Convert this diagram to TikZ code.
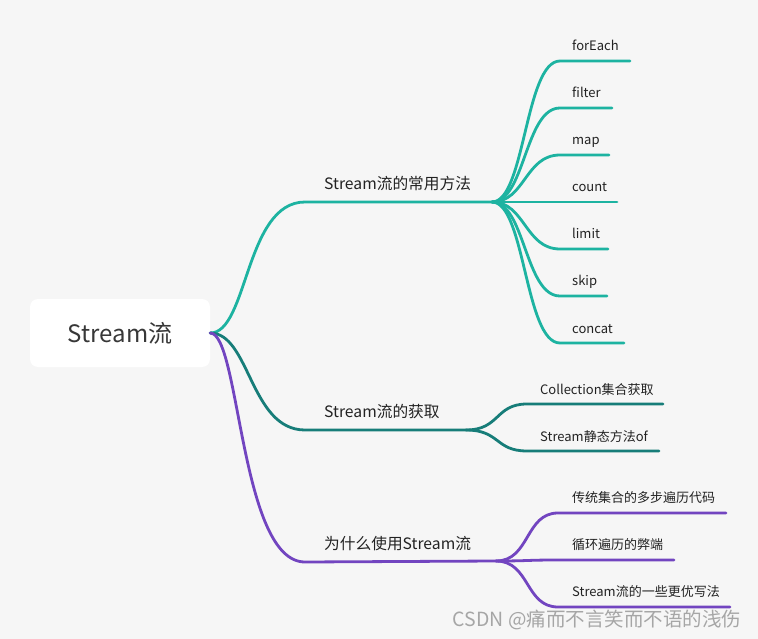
\documentclass[tikz,border=0pt]{standalone}
\usepackage{fontspec}
\setmainfont{Noto Sans CJK SC}
\definecolor{bgc}{HTML}{F6F6F6}
\definecolor{tealA}{HTML}{1DB3A1}
\definecolor{tealB}{HTML}{177D79}
\definecolor{purp}{HTML}{7245C0}
\definecolor{txt}{HTML}{222222}
\tikzset{
  rootbox/.style={fill=white,rounded corners=8pt,minimum width=180pt,minimum height=68pt,inner sep=0pt,font=\fontsize{24}{28}\selectfont,text=txt!90},
  mainlbl/.style={anchor=base west,inner sep=0pt,font=\fontsize{15.7}{18}\selectfont,text=txt},
  leaflbl/.style={anchor=base west,inner sep=0pt,font=\fontsize{13}{15}\selectfont,text=txt},
  br/.style={line width=2.8pt,line cap=round},
  wm/.style={anchor=center,inner sep=0pt,font=\fontsize{19.5}{22}\selectfont,text=black!35}
}
\begin{document}
\begin{tikzpicture}[x=1pt,y=-1pt]
\fill[bgc] (0,0) rectangle (758,639);
\useasboundingbox (0,0) rectangle (758,639);

% root
\node[rootbox] (root) at (120,333) {Stream流};

% branch 1
\coordinate (b1s) at (305,202);
\coordinate (b1j) at (492,202);
\node[mainlbl] (m1) at (324,190) {Stream流的常用方法};
\draw[br,tealA] (root.east) .. controls (248,333) and (245,202) .. (b1s) -- (b1j);

\foreach \n/\y/\e/\t in {1/61/630/forEach,2/108/612/filter,3/155/609/map,4/202/617/count,5/249/608/limit,6/296/607/skip,7/343/624/concat}{
  \coordinate (a\n s) at (560,\y);
  \coordinate (a\n e) at (\e,\y);
  \node[leaflbl] (a\n) at (572,\y-10) {\t};
  \draw[br,tealA] (b1j) .. controls (525,202) and (525,\y) .. (a\n s) -- (a\n e);
}

% branch 2
\coordinate (b2s) at (305,430);
\coordinate (b2j) at (466,430);
\node[mainlbl] (m2) at (324,417) {Stream流的获取};
\draw[br,tealB] (root.east) .. controls (250,333) and (250,430) .. (b2s) -- (b2j);
\coordinate (c1s) at (527,404);
\coordinate (c1e) at (663,404);
\coordinate (c2s) at (527,451);
\coordinate (c2e) at (659,451);
\node[leaflbl] (c1) at (540,394) {Collection集合获取};
\node[leaflbl] (c2) at (540,441) {Stream静态方法of};
\draw[br,tealB] (b2j) .. controls (500,430) and (495,404) .. (c1s) -- (c1e);
\draw[br,tealB] (b2j) .. controls (500,430) and (495,451) .. (c2s) -- (c2e);

% branch 3
\coordinate (b3s) at (305,562);
\coordinate (b3j) at (496,561);
\node[mainlbl] (m3) at (324,549) {为什么使用Stream流};
\draw[br,purp] (root.east) .. controls (240,333) and (240,562) .. (b3s) -- (b3j);
\coordinate (d1s) at (558,513);
\coordinate (d1e) at (726,513);
\coordinate (d2s) at (558,560);
\coordinate (d2e) at (674,560);
\coordinate (d3s) at (558,607);
\coordinate (d3e) at (730,607);
\node[leaflbl] (d1) at (572,502) {传统集合的多步遍历代码};
\node[leaflbl] (d2) at (572,549) {循环遍历的弊端};
\node[leaflbl] (d3) at (572,596) {Stream流的一些更优写法};
\draw[br,purp] (b3j) .. controls (530,561) and (525,513) .. (d1s) -- (d1e);
\draw[br,purp] (b3j) .. controls (530,561) and (525,560) .. (d2s) -- (d2e);
\draw[br,purp] (b3j) .. controls (530,561) and (525,607) .. (d3s) -- (d3e);

% watermark
\node[wm] (wmk) at (597,620) {CSDN @痛而不言笑而不语的浅伤};
\end{tikzpicture}
\end{document}
